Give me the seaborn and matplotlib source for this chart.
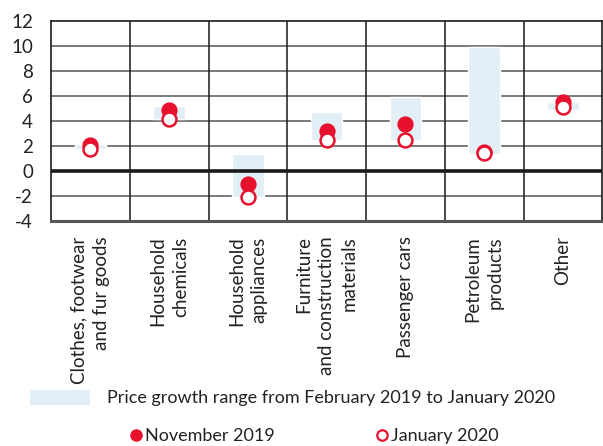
import pandas as pd
import seaborn as sns
import matplotlib.pyplot as plt
from matplotlib.patches import Patch
from matplotlib.lines import Line2D

# Data
categories = ["Clothes, footwear\nand fur goods", "Household\nchemicals", "Household\nappliances",
              "Furniture\nand construction\nmaterials", "Passenger cars", "Petroleum\nproducts", "Other"]
range_low = [1.8, 4.2, -2.1, 2.45, 2.5, 1.4, 4.85]
range_high = [2.2, 5.2, 1.35, 4.75, 5.95, 9.9, 5.5]
nov_2019 = [2.05, 4.9, -1.0, 3.2, 3.8, 1.55, 5.55]
jan_2020 = [1.8, 4.15, -2.05, 2.5, 2.5, 1.45, 5.15]
y_ticks = [-4, -2, 0, 2, 4, 6, 8, 10, 12]

red = '#e8112d'
band = '#e2eff7'

sns.set_style('white')
plt.rcParams['font.family'] = ['Lato', 'DejaVu Sans']
plt.rcParams['font.size'] = 13

df = pd.DataFrame({'cat': categories, 'low': range_low, 'high': range_high,
                   'nov': nov_2019, 'jan': jan_2020})

fig = plt.figure(figsize=(6.03, 4.46), dpi=100)
ax = fig.add_axes([51 / 603, (446 - 221) / 446, 1 - 51 / 603 - 0.001, 200 / 446])

# range bars
ax.bar(df['cat'], df['high'] - df['low'], bottom=df['low'], width=0.4, color=band, zorder=2)

# points
sns.scatterplot(data=df, x='cat', y='nov', ax=ax, s=110, color=red, edgecolor=red,
                linewidth=1.2, zorder=4, legend=False)
sns.scatterplot(data=df, x='cat', y='jan', ax=ax, s=100, color='white', edgecolor=red,
                linewidth=1.8, zorder=5, legend=False)

ax.set_xlim(-0.5, len(categories) - 0.5)
ax.set_ylim(-4, 12)
ax.set_yticks(y_ticks)
ax.set_yticklabels([str(v) for v in y_ticks])
ax.set_xticks(range(len(categories)))
ax.set_xticklabels(categories, rotation=90, ha='center', va='top',
                   multialignment='right', linespacing=1.4)
ax.tick_params(axis='y', length=0, pad=13, labelsize=13.5, labelcolor='#222222')
ax.tick_params(axis='x', length=0, pad=11, labelsize=13.5, labelcolor='#222222')
ax.set_xlabel('')
ax.set_ylabel('')

# grid
for v in y_ticks[1:-1]:
    ax.axhline(v, color='#7a7a7a', lw=1.4, zorder=1)
ax.axhline(0, color='#1a1a1a', lw=2.6, zorder=3)
for i in range(1, len(categories)):
    ax.axvline(i - 0.5, color='#1a1a1a', lw=1.1, zorder=1)

for side in ['top', 'left', 'right']:
    ax.spines[side].set_color('#1a1a1a')
    ax.spines[side].set_linewidth(1.2)
ax.spines['bottom'].set_color('#555555')
ax.spines['bottom'].set_linewidth(2.2)

# legends
leg1 = fig.legend(handles=[Patch(facecolor=band, edgecolor='none')],
                  labels=['Price growth range from February 2019 to January 2020'],
                  loc='center left', bbox_to_anchor=(30 / 603, (446 - 398) / 446),
                  frameon=False, borderpad=0, borderaxespad=0, handlelength=3.3,
                  handleheight=0.9, handletextpad=0.95, fontsize=13)
for t in leg1.get_texts():
    t.set_color('#222222')

h2 = [Line2D([], [], marker='o', ls='none', markersize=8, markerfacecolor=red, markeredgecolor=red),
      Line2D([], [], marker='o', ls='none', markersize=7.5, markerfacecolor='white',
             markeredgecolor=red, markeredgewidth=1.6)]
leg2 = fig.legend(handles=h2, labels=['November 2019', 'January 2020'], ncol=2,
                  loc='center left', bbox_to_anchor=(131 / 603, (446 - 436) / 446),
                  frameon=False, borderpad=0, borderaxespad=0, handlelength=0.6,
                  handletextpad=0.2, columnspacing=5.6, fontsize=13)
for t in leg2.get_texts():
    t.set_color('#222222')

fig.savefig('out.png', dpi=100)
